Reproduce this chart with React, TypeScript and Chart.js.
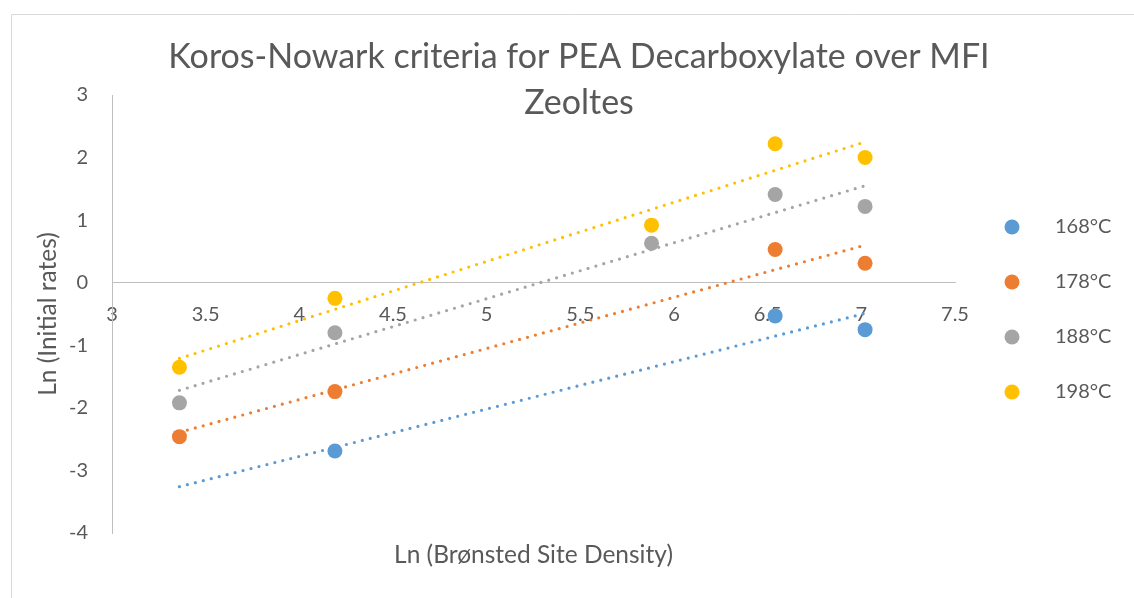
import React, { useEffect, useRef } from "react";
import { Chart, registerables } from "chart.js";

Chart.register(...registerables);

// ---- data ----
const xValues = [3.36, 4.19, 5.88, 6.54, 7.02];
const seriesNames = ["168°C", "178°C", "188°C", "198°C"];
const series168 = [null, -2.69, null, -0.53, -0.75];
const series178 = [-2.46, -1.74, null, 0.53, 0.31];
const series188 = [-1.92, -0.8, 0.63, 1.41, 1.22];
const series198 = [-1.35, -0.25, 0.92, 2.22, 2.0];
const trendX = [3.36, 7.02];
const trend168 = [-3.26, -0.49];
const trend178 = [-2.39, 0.6];
const trend188 = [-1.72, 1.55];
const trend198 = [-1.21, 2.25];
const colors = ["#5B9BD5", "#ED7D31", "#A5A5A5", "#FFC000"];
const titleLines = ["Koros-Nowark criteria for PEA Decarboxylate over MFI", "Zeoltes"];
const xTitle = "Ln (Brønsted Site Density)";
const yTitle = "Ln (Initial rates)";

const FONT = "Lato";
const TEXT = "#595959";
const AXIS = "#bfbfbf";

function toPoints(ys: (number | null)[]) {
  const pts: { x: number; y: number }[] = [];
  ys.forEach((y, i) => {
    if (y !== null) pts.push({ x: xValues[i], y });
  });
  return pts;
}

function legendDot(color: string) {
  const c = document.createElement("canvas");
  c.width = 55;
  c.height = 16;
  const ctx = c.getContext("2d")!;
  ctx.fillStyle = color;
  ctx.beginPath();
  ctx.arc(22, 8, 7.5, 0, Math.PI * 2);
  ctx.fill();
  return c;
}

const frame = {
  id: "frame",
  beforeDraw(chart: any) {
    const { ctx, width, height } = chart;
    ctx.save();
    ctx.fillStyle = "#ffffff";
    ctx.fillRect(0, 0, width, height);
    ctx.strokeStyle = "#d9d9d9";
    ctx.lineWidth = 1;
    ctx.beginPath();
    ctx.moveTo(11.5, height);
    ctx.lineTo(11.5, 14.5);
    ctx.lineTo(width, 14.5);
    ctx.stroke();
    ctx.restore();
  },
};

export default function App() {
  const ref = useRef<HTMLCanvasElement | null>(null);

  useEffect(() => {
    let chart: Chart | null = null;
    let cancelled = false;
    const make = () => {
      if (cancelled || !ref.current) return;
      const seriesList = [series168, series178, series188, series198];
      const trends = [trend168, trend178, trend188, trend198];
      const dots = colors.map(legendDot);
      const scatterSets = seriesList.map((s, i) => ({
        label: seriesNames[i],
        data: toPoints(s),
        backgroundColor: colors[i],
        borderColor: colors[i],
        pointRadius: 7.5,
        pointHoverRadius: 7.5,
        pointBorderWidth: 0,
        showLine: false,
      }));
      const trendSets = trends.map((t, i) => ({
        label: "trend " + seriesNames[i],
        data: [
          { x: trendX[0], y: t[0] },
          { x: trendX[1], y: t[1] },
        ],
        borderColor: colors[i],
        backgroundColor: colors[i],
        borderWidth: 3.2,
        borderDash: [0, 8.2],
        borderCapStyle: "round" as const,
        pointRadius: 0,
        showLine: true,
      }));
      chart = new Chart(ref.current, {
        type: "scatter",
        data: { datasets: [...scatterSets, ...trendSets] as any },
        plugins: [frame],
        options: {
          responsive: false,
          animation: false,
          devicePixelRatio: 1,
          layout: { padding: { left: 44, right: 20, top: 0, bottom: 0 } },
          scales: {
            x: {
              type: "linear",
              position: { y: 0 } as any,
              min: 3,
              max: 7.5,
              ticks: {
                stepSize: 0.5,
                color: TEXT,
                font: { family: FONT, size: 20 },
                padding: 20,
                maxRotation: 0,
                autoSkip: false,
                callback: (v: any) => String(Number(v)),
              },
              grid: { display: false, drawTicks: false },
              border: { display: true, color: AXIS, width: 1 },
            },
            xt: {
              type: "linear",
              position: "bottom",
              min: 3,
              max: 7.5,
              ticks: { display: false },
              grid: { display: false, drawTicks: false },
              border: { display: false },
              title: {
                display: true,
                text: xTitle,
                color: TEXT,
                font: { family: FONT, size: 24.5 },
                padding: { top: 0, bottom: 28 },
              },
              afterFit: (s: any) => {
                s.height = 65;
              },
            },
            y: {
              type: "linear",
              position: "left",
              min: -4,
              max: 3,
              ticks: {
                stepSize: 1,
                color: TEXT,
                font: { family: FONT, size: 20 },
                padding: 24,
                callback: (v: any) => String(Number(v)),
              },
              grid: { display: false, drawTicks: false },
              border: { display: true, color: AXIS, width: 1 },
              title: {
                display: true,
                text: yTitle,
                color: TEXT,
                font: { family: FONT, size: 24.5 },
                padding: { top: -10.7, bottom: 0 },
              },
              afterFit: (s: any) => {
                s.width = 68;
              },
            },
          },
          plugins: {
            title: {
              display: true,
              text: titleLines,
              color: TEXT,
              font: { family: FONT, size: 34, weight: "normal", lineHeight: 46 / 34 },
              padding: { top: 34, bottom: -31 },
            },
            legend: {
              display: true,
              position: "right",
              align: "start",
              maxWidth: 159,
              title: {
                display: true,
                text: " ",
                font: { family: FONT, size: 10, lineHeight: 1 },
                padding: { top: 172, bottom: 0 },
              },
              labels: {
                usePointStyle: true,
                pointStyleWidth: 55,
                padding: 35,
                color: TEXT,
                font: { family: FONT, size: 20 },
                filter: (item: any) => item.datasetIndex < 4,
                generateLabels: (c: any) => {
                  const items = Chart.defaults.plugins.legend.labels.generateLabels(c);
                  return items.map((it: any) =>
                    it.datasetIndex < 4 ? { ...it, pointStyle: dots[it.datasetIndex] } : it
                  );
                },
              },
            },
            tooltip: { enabled: false },
          },
        },
      });
    };
    const fonts: any = (document as any).fonts;
    if (fonts && fonts.load) {
      Promise.all([fonts.load(`20px ${FONT}`), fonts.load(`34px ${FONT}`)])
        .catch(() => null)
        .then(make);
    } else {
      make();
    }
    return () => {
      cancelled = true;
      if (chart) chart.destroy();
    };
  }, []);

  return (
    <div style={{ position: "fixed", left: 0, top: 0, width: 1134, height: 598, background: "#fff" }}>
      <canvas ref={ref} width={1134} height={598} style={{ display: "block" }} />
    </div>
  );
}
